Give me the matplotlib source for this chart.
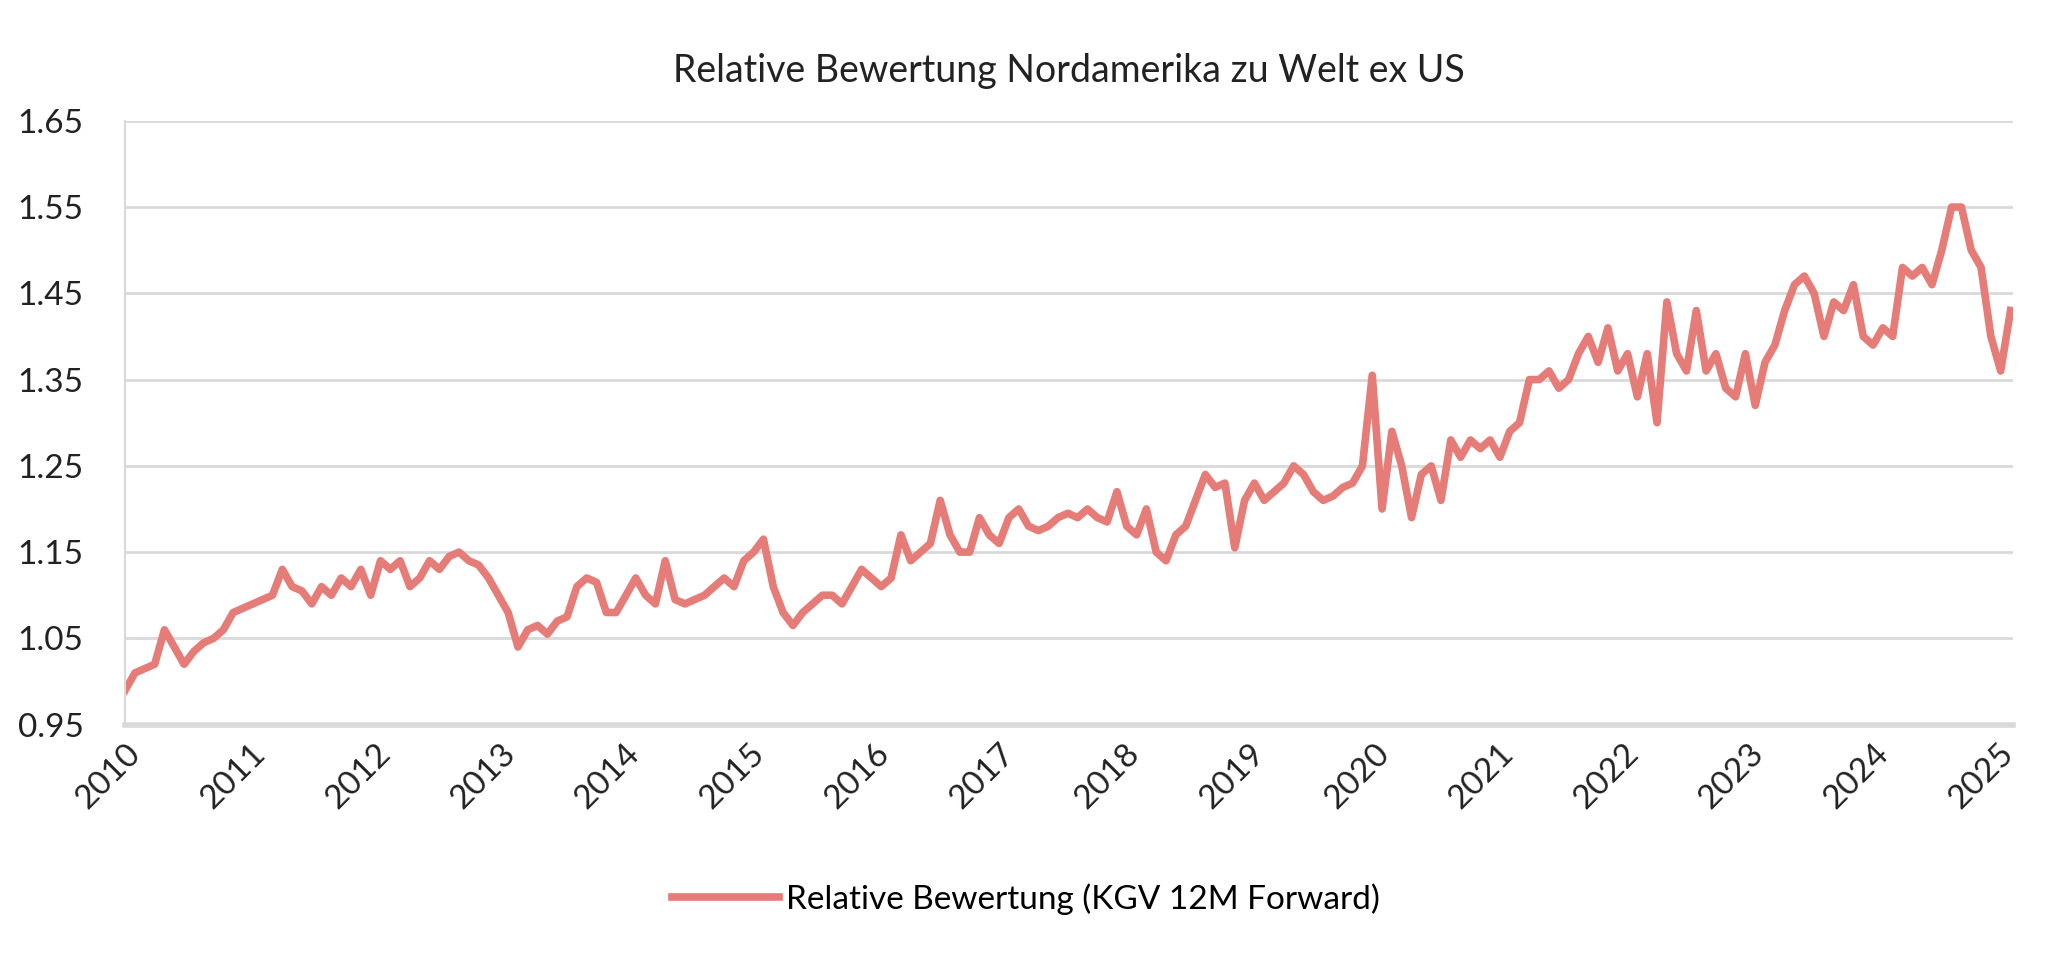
import matplotlib
matplotlib.use("Agg")
import matplotlib.pyplot as plt
import numpy as np

start_year = 2010
values = [
 0.99,1.01,1.015,1.02,1.06,1.04,1.02,1.035,1.045,1.05,1.06,1.08,
 1.085,1.09,1.095,1.10,1.13,1.11,1.105,1.09,1.11,1.10,1.12,1.11,
 1.13,1.10,1.14,1.13,1.14,1.11,1.12,1.14,1.13,1.145,1.15,1.14,
 1.135,1.12,1.10,1.08,1.04,1.06,1.065,1.055,1.07,1.075,1.11,1.12,
 1.115,1.08,1.08,1.10,1.12,1.10,1.09,1.14,1.095,1.09,1.095,1.10,
 1.11,1.12,1.11,1.14,1.15,1.165,1.11,1.08,1.065,1.08,1.09,1.10,
 1.10,1.09,1.11,1.13,1.12,1.11,1.12,1.17,1.14,1.15,1.16,1.21,
 1.17,1.15,1.15,1.19,1.17,1.16,1.19,1.20,1.18,1.175,1.18,1.19,
 1.195,1.19,1.20,1.19,1.185,1.22,1.18,1.17,1.20,1.15,1.14,1.17,
 1.18,1.21,1.24,1.225,1.23,1.155,1.21,1.23,1.21,1.22,1.23,1.25,
 1.24,1.22,1.21,1.215,1.225,1.23,1.25,1.355,1.20,1.29,1.25,1.19,
 1.24,1.25,1.21,1.28,1.26,1.28,1.27,1.28,1.26,1.29,1.30,1.35,
 1.35,1.36,1.34,1.35,1.38,1.40,1.37,1.41,1.36,1.38,1.33,1.38,
 1.30,1.44,1.38,1.36,1.43,1.36,1.38,1.34,1.33,1.38,1.32,1.37,
 1.39,1.43,1.46,1.47,1.45,1.40,1.44,1.43,1.46,1.40,1.39,1.41,
 1.40,1.48,1.47,1.48,1.46,1.50,1.55,1.55,1.50,1.48,1.40,1.36,
 1.43,
]
year_ticks = list(range(2010, 2026))
y_ticks = [0.95, 1.05, 1.15, 1.25, 1.35, 1.45, 1.55, 1.65]
series_name = "Relative Bewertung (KGV 12M Forward)"
title = "Relative Bewertung Nordamerika zu Welt ex US"

x = start_year + np.arange(len(values)) / 12.0 * (15.1 / ((len(values) - 1) / 12.0))

plt.rcParams["font.family"] = "Lato"
fig = plt.figure(figsize=(20.52, 9.74), dpi=100)
ax = fig.add_axes([0.061, 0.256, 0.92, 0.62])
ax.plot(x, values, color="#E57C78", lw=5.5, solid_joinstyle="round", label=series_name)
ax.set_xlim(2010, x[-1] + 0.02)
ax.set_ylim(0.95, 1.65)
ax.set_yticks(y_ticks)
ax.set_yticklabels([f"{v:.2f}" for v in y_ticks])
ax.set_xticks(year_ticks)
ax.set_xticklabels([str(y) for y in year_ticks], rotation=45, ha="right", rotation_mode="anchor")
ax.grid(axis="y", color="#D9D9D9", lw=2)
ax.set_axisbelow(True)
for s in ["top", "right"]:
    ax.spines[s].set_visible(False)
ax.spines["left"].set_color("#D9D9D9")
ax.spines["left"].set_linewidth(1.5)
ax.spines["bottom"].set_color("#D9D9D9")
ax.spines["bottom"].set_linewidth(4)
ax.tick_params(axis="both", length=0, labelsize=24, colors="#222222", pad=10)
ax.tick_params(axis="y", pad=30)
ax.set_title(title, fontsize=27, color="#222222", pad=28)
fig.legend(loc="lower center", bbox_to_anchor=(0.5, 0.03), frameon=False,
           fontsize=24, handlelength=3.2, handletextpad=0.2)
fig.savefig("out.png", dpi=100, facecolor="white")
